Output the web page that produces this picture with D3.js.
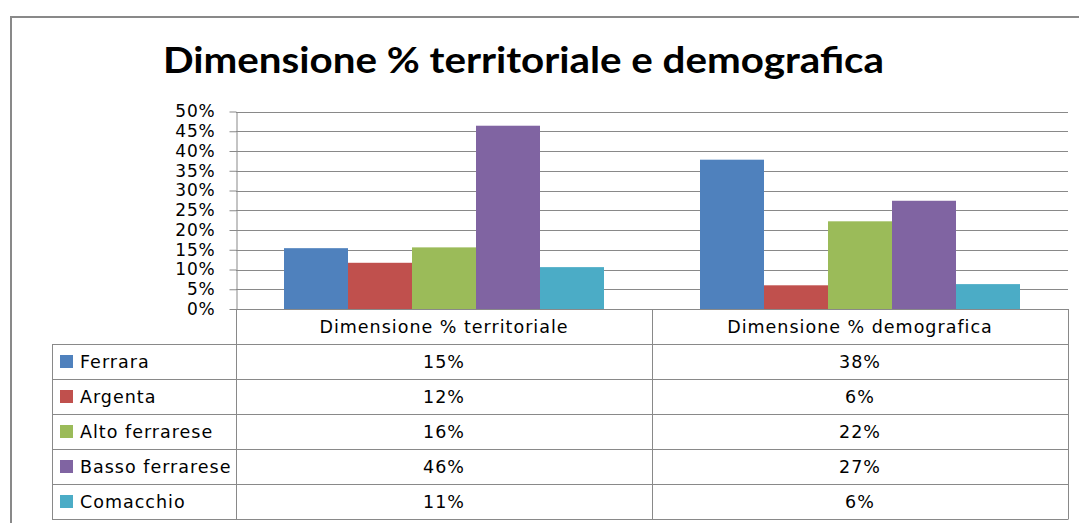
<!DOCTYPE html>
<html>
<head>
<meta charset="utf-8">
<script src="https://cdn.jsdelivr.net/npm/d3@7"></script>
<style>
  body { margin: 0; background: #fff; }
  svg { display: block; font-family: 'DejaVu Sans', sans-serif; }
</style>
</head>
<body>
<svg width="1079" height="523"></svg>
<script>
(function (d3) {
  'use strict';

  const categories = ['Dimensione % territoriale', 'Dimensione % demografica'];
  const series = ['Ferrara', 'Argenta', 'Alto ferrarese', 'Basso ferrarese', 'Comacchio'];
  const territoriale = [0.154, 0.117, 0.156, 0.464, 0.106];
  const demografica = [0.378, 0.060, 0.222, 0.274, 0.063];
  const yTicks = [0, 0.05, 0.10, 0.15, 0.20, 0.25, 0.30, 0.35, 0.40, 0.45, 0.50];
  const colors = ['#4F81BD', '#C0504D', '#9BBB59', '#8064A2', '#4BACC6'];

  const valuesByCategory = [territoriale, demografica];

  const svg = d3.select('svg');
  const lineColor = '#898989';
  const bodyFont = "'DejaVu Sans', sans-serif";
  const bodySize = 17.5;

  // outer chart frame (cut by the window at right / bottom)
  svg.append('rect')
    .attr('x', 11).attr('y', 17)
    .attr('width', 1200).attr('height', 600)
    .attr('fill', 'none')
    .attr('stroke', lineColor)
    .attr('stroke-width', 2);

  svg.append('text')
    .attr('x', 163)
    .attr('y', 73)
    .attr('font-family', 'Lato, sans-serif')
    .attr('font-size', 36)
    .attr('font-weight', 'bold')
    .attr('textLength', 721)
    .attr('lengthAdjust', 'spacingAndGlyphs')
    .text('Dimensione % territoriale e demografica');

  const plotLeft = 236, plotRight = 1068;
  const tableLeft = 52;

  const x0 = d3.scaleBand()
    .domain(categories)
    .range([plotLeft, plotRight]);

  const x1 = d3.scaleBand()
    .domain(series)
    .range([0, x0.bandwidth()])
    .paddingOuter(0.75);

  const y = d3.scaleLinear()
    .domain([0, 0.5])
    .range([309, 111.5]);

  // gridlines
  svg.append('g')
    .selectAll('line').data(yTicks.slice(1))
    .enter().append('line')
      .attr('x1', plotLeft).attr('x2', plotRight)
      .attr('y1', d => Math.round(y(d)) + 0.5)
      .attr('y2', d => Math.round(y(d)) + 0.5)
      .attr('stroke', lineColor);

  // bars
  const groups = svg.append('g')
    .selectAll('g').data(categories)
    .enter().append('g')
      .attr('transform', d => `translate(${x0(d)},0)`);

  groups.selectAll('rect')
    .data((d, i) => series.map((s, j) => ({ s, v: valuesByCategory[i][j], c: colors[j] })))
    .enter().append('rect')
      .attr('x', d => x1(d.s))
      .attr('width', x1.bandwidth())
      .attr('y', d => y(d.v))
      .attr('height', d => y(0) - y(d.v))
      .attr('fill', d => d.c);

  // y axis
  const yAxis = d3.axisLeft(y)
    .tickValues(yTicks)
    .tickFormat(d3.format('.0%'))
    .tickSize(7)
    .tickSizeOuter(0)
    .tickPadding(14);

  const yAxisG = svg.append('g')
    .attr('transform', `translate(${plotLeft + 0.5},0)`)
    .call(yAxis);
  yAxisG.selectAll('line, path').attr('stroke', lineColor);
  yAxisG.selectAll('text')
    .attr('font-size', 17)
    .attr('letter-spacing', 0.8)
    .attr('font-family', bodyFont)
    .attr('fill', '#000');

  // data table
  const rows = ['header'].concat(series);
  const rowY = d3.scaleBand()
    .domain(rows)
    .range([309, 519]);

  const table = svg.append('g')
    .attr('stroke', lineColor)
    .attr('stroke-width', 1);

  // horizontal lines
  series.forEach(s => {
    table.append('line')
      .attr('x1', tableLeft).attr('x2', plotRight)
      .attr('y1', Math.round(rowY(s)) + 0.5).attr('y2', Math.round(rowY(s)) + 0.5);
  });
  table.append('line')
    .attr('x1', tableLeft).attr('x2', plotRight)
    .attr('y1', 519.5).attr('y2', 519.5);
  table.append('line')
    .attr('x1', plotLeft).attr('x2', plotRight)
    .attr('y1', 309.5).attr('y2', 309.5);

  // vertical lines
  const vLines = [
    { x: tableLeft, y1: rowY(series[0]), y2: 519.5 },
    { x: plotLeft, y1: 309, y2: 519.5 },
    { x: x0(categories[1]), y1: 309, y2: 519.5 },
    { x: plotRight, y1: 309, y2: 519.5 }
  ];
  vLines.forEach(v => {
    table.append('line')
      .attr('x1', Math.round(v.x) + 0.5).attr('x2', Math.round(v.x) + 0.5)
      .attr('y1', v.y1).attr('y2', v.y2);
  });

  const textG = svg.append('g')
    .attr('font-family', bodyFont)
    .attr('font-size', bodySize)
    .attr('letter-spacing', 1)
    .attr('fill', '#000');

  // category headers
  textG.selectAll('.cat').data(categories)
    .enter().append('text')
      .attr('class', 'cat')
      .attr('x', d => x0(d) + x0.bandwidth() / 2)
      .attr('y', rowY('header') + rowY.bandwidth() / 2)
      .attr('dy', '0.35em')
      .attr('text-anchor', 'middle')
      .text(d => d);

  // legend keys + names + values
  series.forEach((s, j) => {
    const cy = rowY(s) + rowY.bandwidth() / 2;
    svg.append('rect')
      .attr('x', 60).attr('y', cy - 6.5)
      .attr('width', 13).attr('height', 13)
      .attr('fill', colors[j]);
    textG.append('text')
      .attr('x', 80).attr('y', cy)
      .attr('dy', '0.35em')
      .text(s);

    categories.forEach((c, i) => {
      textG.append('text')
        .attr('x', x0(c) + x0.bandwidth() / 2)
        .attr('y', cy)
        .attr('dy', '0.35em')
        .attr('text-anchor', 'middle')
        .text(d3.format('.0%')(valuesByCategory[i][j]));
    });
  });

}(d3));
</script>
</body>
</html>
